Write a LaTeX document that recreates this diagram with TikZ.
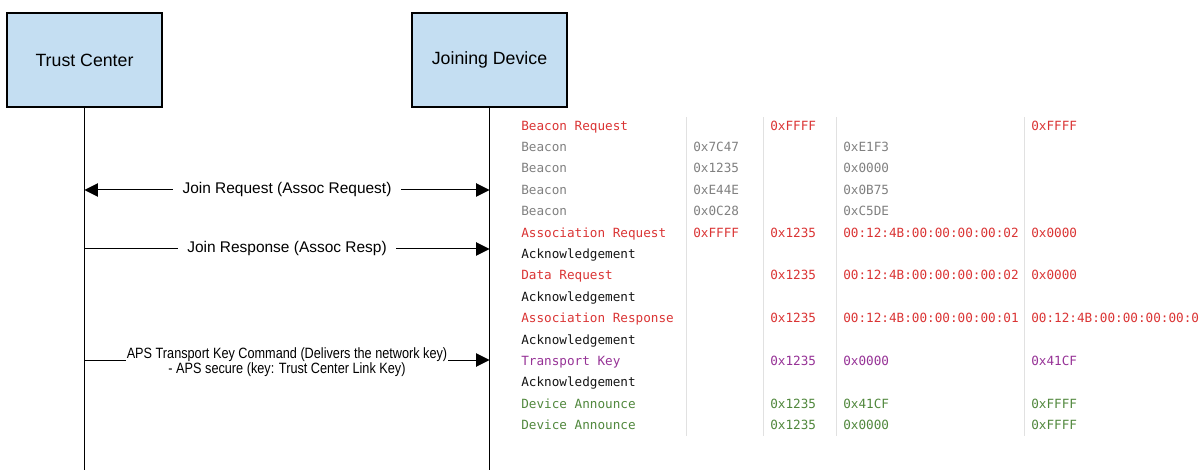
\documentclass[tikz,border=0pt]{standalone}
\usepackage{fontspec}
\setmainfont{Liberation Sans}
\setmonofont{DejaVu Sans Mono}
\newfontfamily\narrowsans[FakeStretch=0.85]{Liberation Sans}
\usetikzlibrary{arrows.meta}

\definecolor{boxblue}{RGB}{196,222,242}
\definecolor{logred}{RGB}{218,52,52}
\definecolor{loggray}{RGB}{128,128,128}
\definecolor{logpurple}{RGB}{150,50,150}
\definecolor{loggreen}{RGB}{80,135,60}
\definecolor{logblack}{RGB}{20,20,20}
\definecolor{sepgray}{RGB}{225,225,225}

\tikzset{
    party/.style={draw, line width=1.5pt, fill=boxblue, minimum width=116pt,
        minimum height=71pt, font=\fontsize{13.3}{16}\selectfont},
    msg/.style={line width=0.75pt, -{Triangle[length=10pt,width=10pt]}},
    msgboth/.style={line width=0.75pt, {Triangle[length=10pt,width=10pt]}-{Triangle[length=10pt,width=10pt]}},
    msglabel/.style={fill=white, inner xsep=7pt, inner ysep=1pt, font=\fontsize{11.6}{14}\selectfont},
    cell/.style={anchor=mid west, inner sep=0pt, font=\ttfamily\fontsize{9.5}{11}\selectfont},
}

\begin{document}
\begin{tikzpicture}[x=0.75pt,y=-0.75pt]
    \useasboundingbox (0,0) rectangle (1199,470);
    % parties and lifelines
    \node[party] (tc) at (84.5,60) {Trust Center};
    \node[party] (jd) at (489.5,60) {Joining Device};
    \coordinate (tcend) at (84.5,470);
    \coordinate (jdend) at (489.5,470);
    \draw[line width=0.75pt] (tc) -- (tcend) (jd) -- (jdend);

    % messages
    \coordinate (tc1) at (84.5,190);
    \coordinate (jd1) at (489.5,190);
    \coordinate (tc2) at (84.5,249);
    \coordinate (jd2) at (489.5,249);
    \coordinate (tc3) at (84.5,360);
    \coordinate (jd3) at (489.5,360);
    \draw[msgboth] (tc1) -- node[msglabel] {Join Request (Assoc Request)} (jd1);
    \draw[msg] (tc2) -- node[msglabel] {Join Response (Assoc Resp)} (jd2);
    \draw[msg] (tc3) -- node[msglabel, inner xsep=0.5pt, yshift=-1.5pt, align=center,
        font=\narrowsans\fontsize{11.2}{11.3}\selectfont]
        {APS Transport Key Command (Delivers the network key)\\- APS secure (key: Trust Center Link Key)} (jd3);

    % sniffer log
    \draw[sepgray, line width=0.75pt]
        (686,117) -- (686,436)
        (763,117) -- (763,436)
        (836,117) -- (836,436)
        (1024,117) -- (1024,436);
    \foreach \what/\cola/\colb/\colc/\cold/\clr [count=\r] in {
        Beacon Request//0xFFFF//0xFFFF/logred,
        Beacon/0x7C47//0xE1F3//loggray,
        Beacon/0x1235//0x0000//loggray,
        Beacon/0xE44E//0x0B75//loggray,
        Beacon/0x0C28//0xC5DE//loggray,
        Association Request/0xFFFF/0x1235/00:12:4B:00:00:00:00:02/0x0000/logred,
        Acknowledgement/////logblack,
        Data Request//0x1235/00:12:4B:00:00:00:00:02/0x0000/logred,
        Acknowledgement/////logblack,
        Association Response//0x1235/00:12:4B:00:00:00:00:01/00:12:4B:00:00:00:00:0/logred,
        Acknowledgement/////logblack,
        Transport Key//0x1235/0x0000/0x41CF/logpurple,
        Acknowledgement/////logblack,
        Device Announce//0x1235/0x41CF/0xFFFF/loggreen,
        Device Announce//0x1235/0x0000/0xFFFF/loggreen}
    {
        \node[cell, \clr] (frame\r) at (521,{126.5+21.4*(\r-1)}) {\what};
        \node[cell, \clr] (src\r) at (693,{126.5+21.4*(\r-1)}) {\cola};
        \node[cell, \clr] (dst\r) at (770,{126.5+21.4*(\r-1)}) {\colb};
        \node[cell, \clr] (ext\r) at (843,{126.5+21.4*(\r-1)}) {\colc};
        \node[cell, \clr] (nwk\r) at (1031,{126.5+21.4*(\r-1)}) {\cold};
    }
\end{tikzpicture}
\end{document}
